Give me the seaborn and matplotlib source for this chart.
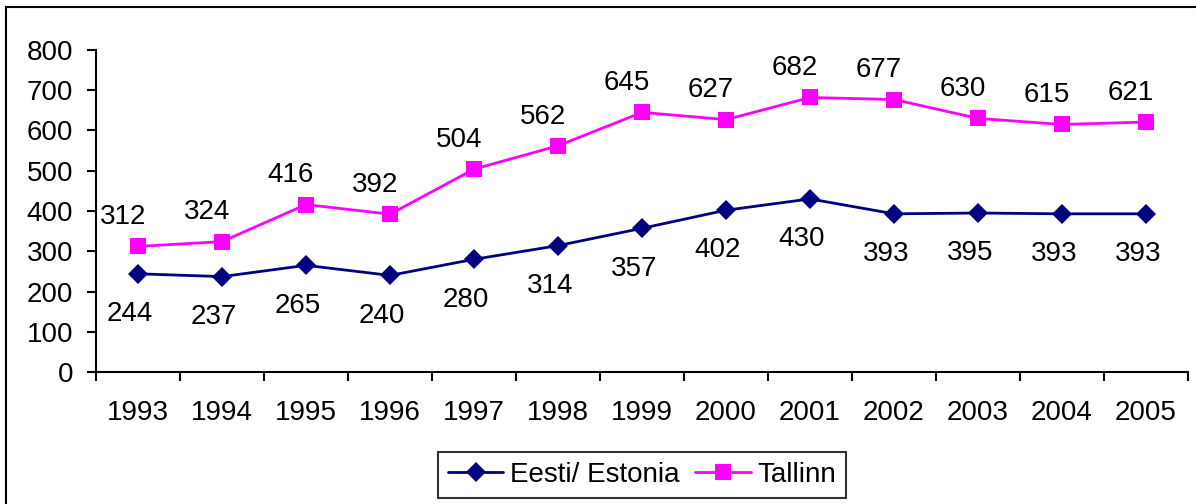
import seaborn as sns, matplotlib.pyplot as plt
import pandas as pd
from matplotlib.patches import Rectangle

years = [1993, 1994, 1995, 1996, 1997, 1998, 1999, 2000, 2001, 2002, 2003, 2004, 2005]
estonia = [244, 237, 265, 240, 280, 314, 357, 402, 430, 393, 395, 393, 393]
tallinn = [312, 324, 416, 392, 504, 562, 645, 627, 682, 677, 630, 615, 621]
series_names = ["Eesti/ Estonia", "Tallinn"]

df = pd.concat([
    pd.DataFrame({"year": years, "value": estonia, "series": series_names[0]}),
    pd.DataFrame({"year": years, "value": tallinn, "series": series_names[1]}),
])

sns.set_style("ticks")
plt.rcParams['font.family'] = ['Liberation Sans', 'DejaVu Sans']
FS = 20

fig = plt.figure(figsize=(11.96, 5.04), dpi=100)
ax = fig.add_axes([96/1196, 1-372/504, (1188-96)/1196, (372-50)/504])

colors = {series_names[0]: "#000080", series_names[1]: "#FF00FF"}
sns.lineplot(data=df, x="year", y="value", hue="series", style="series",
             markers={series_names[0]: "D", series_names[1]: "s"}, dashes=False,
             palette=colors, linewidth=2, markersize=10, markeredgewidth=0,
             ax=ax, legend=False)
# square marker a bit bigger
for ln in ax.lines:
    if ln.get_marker() == "s":
        ln.set_markersize(11)

# data labels
for x, v in zip(years, tallinn):
    ax.annotate(str(v), (x, v), xytext=(-11, 21), textcoords="offset points",
                ha="center", va="center", fontsize=FS, color="black")
for x, v in zip(years, estonia):
    ax.annotate(str(v), (x, v), xytext=(-6, -29), textcoords="offset points",
                ha="center", va="center", fontsize=FS, color="black")

ax.set_xlim(years[0] - 0.5, years[-1] + 0.5)
ax.set_ylim(0, 800)
ax.set_yticks(range(0, 801, 100))
ax.set_xticks(years)
ax.set_xticklabels([str(y) for y in years])
ax.set_xticks([y - 0.5 for y in years] + [years[-1] + 0.5], minor=True)
ax.tick_params(axis="x", which="major", length=0, pad=20, labelsize=FS, labelcolor="black")
ax.tick_params(axis="x", which="minor", length=6.5, width=1.5, direction="out", color="black")
ax.tick_params(axis="y", length=6.5, width=1.5, direction="out", pad=10, labelsize=FS,
               labelcolor="black", color="black")
ax.set_xlabel("")
ax.set_ylabel("")
for side in ["top", "right"]:
    ax.spines[side].set_visible(False)
for side in ["left", "bottom"]:
    ax.spines[side].set_linewidth(1.5)
    ax.spines[side].set_color("black")

handles = ax.lines[:2]
leg = fig.legend(handles, series_names, loc="center", bbox_to_anchor=(642/1196, 1-475/504),
                 ncol=2, fontsize=FS, frameon=True, fancybox=False, handlelength=2.0,
                 columnspacing=0.55, handletextpad=0.25, borderpad=0.35, borderaxespad=0)
leg.get_frame().set_edgecolor("black")
leg.get_frame().set_linewidth(1.5)
for t in leg.get_texts():
    t.set_color("black")

fig.patches.append(Rectangle((6/1196, -0.05), 1.1, 1-7/504+0.05, transform=fig.transFigure,
                             fill=False, edgecolor="black", linewidth=1.5))

fig.savefig("out.png", dpi=100)
